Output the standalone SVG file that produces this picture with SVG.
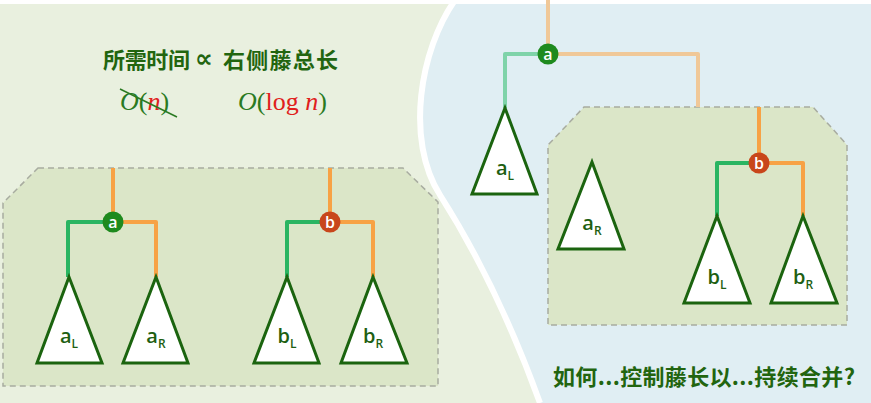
<svg xmlns="http://www.w3.org/2000/svg" width="871" height="403" viewBox="0 0 871 403">
<style>
.box{fill:#dbe6c8;stroke:#a8aca0;stroke-width:1.5;stroke-dasharray:6 4}
.tri{fill:#ffffff;stroke:#1b640f;stroke-width:3;stroke-linejoin:miter}
.e{fill:none;stroke-width:4;stroke-linejoin:round;stroke-linecap:butt}
.g{stroke:#2ab562}.o{stroke:#f7a245}
.gp{stroke:#7fd3a9}.op{stroke:#f0c898}
.lbl{font-family:"Open Sans","DejaVu Sans",sans-serif;font-weight:600;fill:#1e5f12;text-anchor:middle}
.nl{font-family:"Open Sans","DejaVu Sans",sans-serif;font-weight:600;fill:#ffffff;font-size:16px;text-anchor:middle}
.cjk{font-family:"Noto Sans CJK SC",sans-serif;font-weight:700;fill:#22650f;font-size:22px}
.math{font-family:"Liberation Serif",serif;font-size:26px}
</style>
<rect width="871" height="403" fill="#ffffff"/>
<path d="M0 4 H453 C420 50 405 140 440 195 C475 250 510 320 540 403 H0 Z" fill="#e9f0df"/>
<path d="M453 4 H871 V403 H540 C510 320 475 250 440 195 C405 140 420 50 453 4 Z" fill="#e0eef3"/>
<path d="M455 0 C420 50 405 140 440 195 C475 250 510 320 540 403" fill="none" stroke="#ffffff" stroke-width="6"/>

<g id="left-box"><path class="box" d="M38 168 H403 L438 202 V386 H3 V203 Z"/></g>
<g id="right-box"><path class="box" d="M584 107 H813 L847 145 V325 H548 V145 Z"/></g>

<g id="title">
<text class="cjk" x="103" y="68" textLength="87" lengthAdjust="spacing">所需时间</text>
<text x="195" y="67" font-family="DejaVu Sans,sans-serif" font-size="25" fill="#22650f" font-weight="700">∝</text>
<text class="cjk" x="223" y="68" textLength="115" lengthAdjust="spacing">右侧藤总长</text>
<text class="math" x="120" y="110"><tspan fill="#2a7a22" font-style="italic">O</tspan><tspan fill="#2a7a22">(</tspan><tspan fill="#e0201c" font-style="italic">n</tspan><tspan fill="#2a7a22">)</tspan></text>
<line x1="120" y1="89" x2="177" y2="117" stroke="#2a7a22" stroke-width="1.5"/>
<text class="math" x="238" y="110"><tspan fill="#2a7a22" font-style="italic">O</tspan><tspan fill="#2a7a22">(</tspan><tspan fill="#e0201c">log </tspan><tspan fill="#e0201c" font-style="italic">n</tspan><tspan fill="#2a7a22">)</tspan></text>
</g>

<g id="connectors">
<path class="e o" d="M113 168 V222"/>
<path class="e g" d="M113 222 H68 V277"/>
<path class="e o" d="M113 222 H156 V277"/>
<path class="e o" d="M330 168 V222"/>
<path class="e g" d="M330 222 H287 V277"/>
<path class="e o" d="M330 222 H373 V277"/>
<path class="e op" d="M548 0 V54"/>
<path class="e gp" d="M548 54 H505 V108"/>
<path class="e op" d="M548 54 H698 V107"/>
<path class="e o" d="M759 107 V163"/>
<path class="e g" d="M759 163 H717 V216"/>
<path class="e o" d="M759 163 H803 V216"/>
</g>

<g id="node-a-left"><circle cx="113" cy="222" r="10.5" fill="#1e8a1e"/><text class="nl" x="113" y="228">a</text></g>
<g id="node-b-left"><circle cx="330" cy="222" r="10.5" fill="#c8461b"/><text class="nl" x="330" y="228">b</text></g>
<g id="node-a-right"><circle cx="548" cy="54" r="10.5" fill="#1e8a1e"/><text class="nl" x="548" y="60">a</text></g>
<g id="node-b-right"><circle cx="759" cy="163" r="10.5" fill="#c8461b"/><text class="nl" x="759" y="169">b</text></g>

<g id="tri-aL-left"><path class="tri" d="M69 277 L102 363 H37 Z"/><text class="lbl" x="69" y="343" font-size="20">a<tspan font-size="12" dy="5">L</tspan></text></g>
<g id="tri-aR-left"><path class="tri" d="M156 277 L188 363 H123 Z"/><text class="lbl" x="156" y="343" font-size="20">a<tspan font-size="12" dy="5">R</tspan></text></g>
<g id="tri-bL-left"><path class="tri" d="M287 277 L319 363 H254 Z"/><text class="lbl" x="287" y="343" font-size="20">b<tspan font-size="12" dy="5">L</tspan></text></g>
<g id="tri-bR-left"><path class="tri" d="M373 277 L407 363 H341 Z"/><text class="lbl" x="373" y="343" font-size="20">b<tspan font-size="12" dy="5">R</tspan></text></g>

<g id="tri-aL-right"><path class="tri" d="M505 108 L537 194 H472 Z"/><text class="lbl" x="505" y="175" font-size="20">a<tspan font-size="12" dy="5">L</tspan></text></g>
<g id="tri-aR-right"><path class="tri" d="M592 162 L624 249 H558 Z"/><text class="lbl" x="592" y="230" font-size="20">a<tspan font-size="12" dy="5">R</tspan></text></g>
<g id="tri-bL-right"><path class="tri" d="M717 216 L750 303 H684 Z"/><text class="lbl" x="717" y="284" font-size="20">b<tspan font-size="12" dy="5">L</tspan></text></g>
<g id="tri-bR-right"><path class="tri" d="M803 216 L837 303 H771 Z"/><text class="lbl" x="803" y="284" font-size="20">b<tspan font-size="12" dy="5">R</tspan></text></g>

<g id="question"><text class="cjk" x="553" y="385" textLength="302" lengthAdjust="spacing">如何...控制藤长以...持续合并?</text></g>
</svg>
